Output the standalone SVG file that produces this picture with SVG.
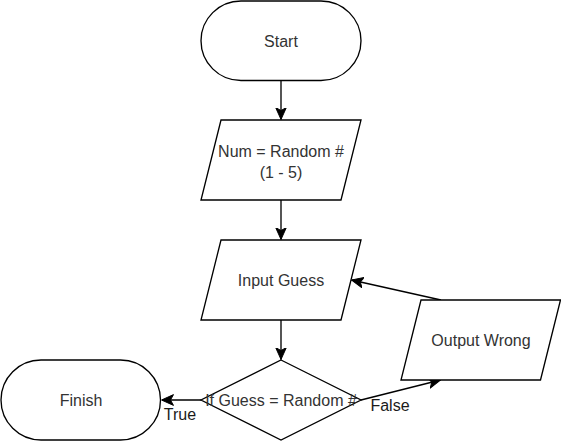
<svg xmlns="http://www.w3.org/2000/svg" width="561" height="441" viewBox="0 0 561 441">
<style>
.shape{fill:#fff;stroke:#000;stroke-width:1.33}
.t{font-family:"Liberation Sans",Arial,sans-serif;font-size:16px;fill:#333;text-anchor:middle}
.lbl{font-family:"Liberation Sans",Arial,sans-serif;font-size:16px;fill:#1a1a1a;text-anchor:middle}
.edge{fill:none;stroke:#000;stroke-width:1.33}
</style>
<defs>
<marker id="arr" markerUnits="userSpaceOnUse" markerWidth="12" markerHeight="12" viewBox="0 0 10 10" refX="10" refY="5" orient="auto">
<path d="M0,0.5 L10,5 L0,9.5 L2.5,5 Z" fill="#000" stroke="#000" stroke-width="0.8"/>
</marker>
</defs>
<rect width="561" height="441" fill="#fff"/>
<g id="connectors">
<line class="edge" x1="281" y1="81" x2="281" y2="119.5" marker-end="url(#arr)"/>
<line class="edge" x1="281" y1="200" x2="281" y2="239.5" marker-end="url(#arr)"/>
<line class="edge" x1="281" y1="320" x2="281" y2="359.5" marker-end="url(#arr)"/>
<line class="edge" x1="201" y1="400" x2="161.5" y2="400" marker-end="url(#arr)"/>
<line class="edge" x1="361" y1="400" x2="440.5" y2="380" marker-end="url(#arr)"/>
<line class="edge" x1="441" y1="300" x2="351.5" y2="280" marker-end="url(#arr)"/>
<text class="lbl" x="180" y="420">True</text>
<text class="lbl" x="390" y="411">False</text>
</g>
<g id="start">
<rect class="shape" x="201" y="1" width="160" height="79.5" rx="40" ry="40"/>
<text class="t" x="281" y="46.5">Start</text>
</g>
<g id="num">
<polygon class="shape" points="221,120 361,120 341,200 201,200"/>
<text class="t" x="281" y="156.5">Num = Random #</text>
<text class="t" x="281" y="178">(1 - 5)</text>
</g>
<g id="input">
<polygon class="shape" points="221,240 361,240 341,320 201,320"/>
<text class="t" x="281" y="286">Input Guess</text>
</g>
<g id="decision">
<polygon class="shape" points="281,360 361,400 281,440 201,400"/>
<text class="t" x="281" y="405.5">If Guess = Random #</text>
</g>
<g id="output">
<polygon class="shape" points="421,300 560.5,300 540.5,380 401,380"/>
<text class="t" x="481" y="346">Output Wrong</text>
</g>
<g id="finish">
<rect class="shape" x="1" y="360" width="159.5" height="80" rx="40" ry="40"/>
<text class="t" x="81" y="406">Finish</text>
</g>
</svg>
